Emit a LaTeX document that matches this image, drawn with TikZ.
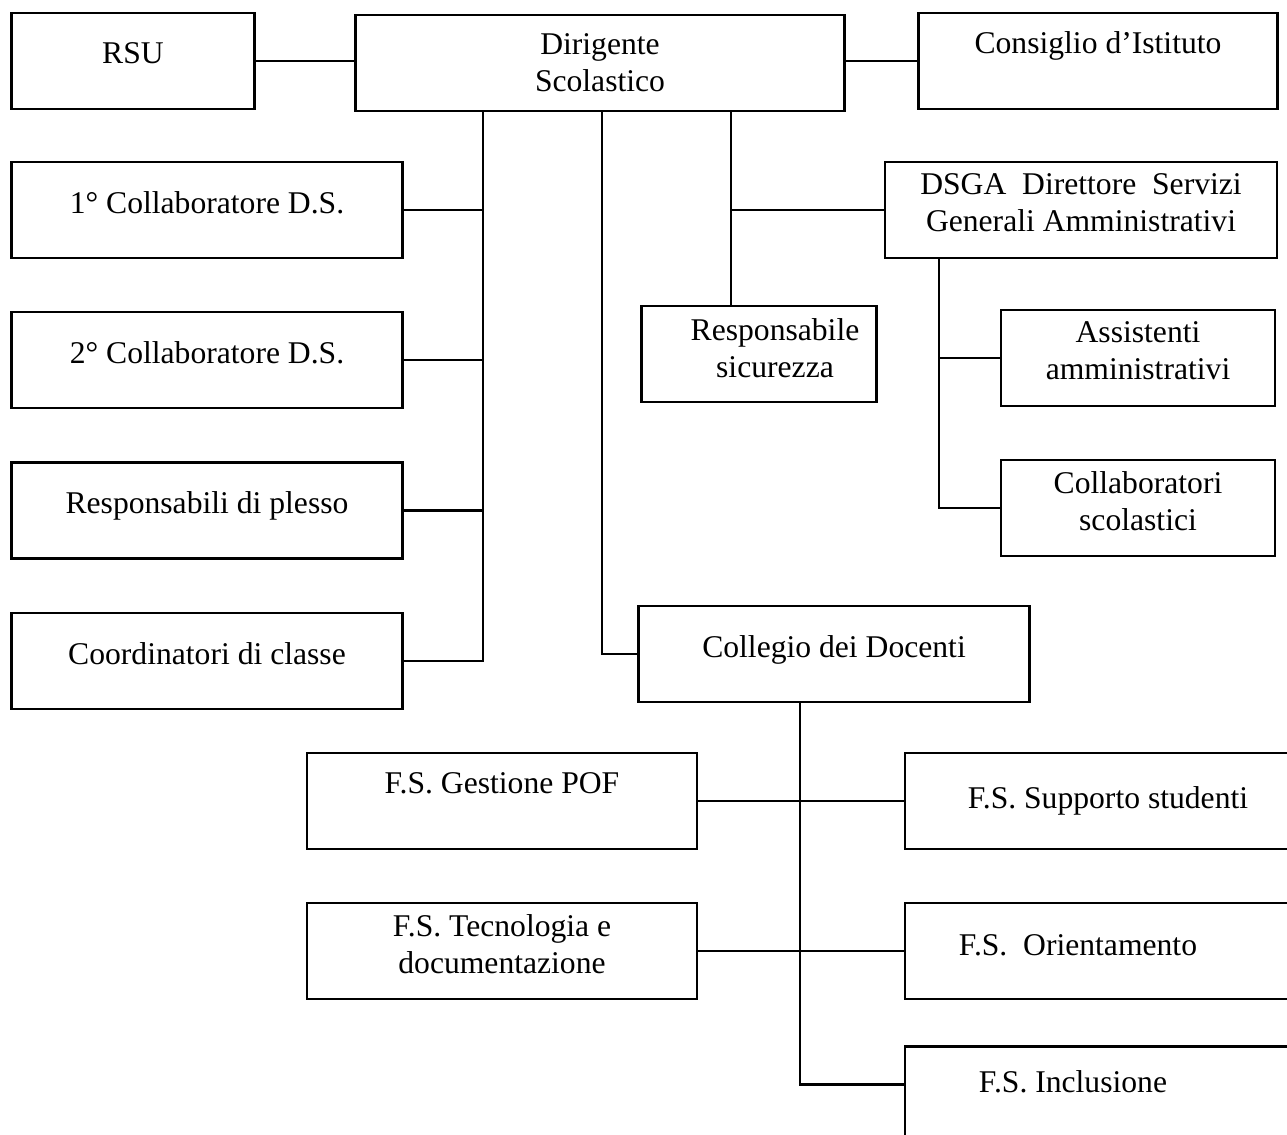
\documentclass[tikz,border=0pt]{standalone}
\usepackage{fontspec}
\setmainfont{Liberation Serif}
\usetikzlibrary{positioning}

\begin{document}
\begin{tikzpicture}[x=0.02cm,y=-0.02cm,line width=1.3pt,node distance=1.04cm,
 box text/.style={font=\fontsize{18}{21}\selectfont,align=center},
 box node/.style={draw,rectangle,box text,text depth=0.3cm,minimum width=#1,minimum height=1.92cm,inner sep=0pt}]

  \clip (0,0) rectangle (1287,1134);

  % top row
  \node[box node=4.86cm] (rsu) at (133,61) {RSU};
  \node[box node=9.78cm,text depth={}] (ds) at (600,63) {Dirigente\\Scolastico};
  \node[box node=7.18cm,text depth={}] (ci) at (1098,61) {Consiglio d’Istituto\\~};

  % left column
  \node[box node=7.82cm] (c1) at (207,210) {1° Collaboratore D.S.};
  \node[box node=7.82cm] (c2) [below=of c1] {2° Collaboratore D.S.};
  \node[box node=7.82cm] (c3) [below=of c2] {Responsabili di plesso};
  \node[box node=7.82cm] (c4) [below=of c3] {Coordinatori di classe};

  % administration
  \node[box node=7.84cm] (dsga) at (1081,210) {DSGA\ \ Direttore\ \ Servizi\\Generali Amministrativi};
  \node[box node=4.7cm, label={[box text,xshift=0.32cm,yshift=0.11cm]center:Responsabile\\sicurezza}] (rs) at (759,354) {};
  \node[box node=5.48cm] (aa) at (1138,358) {Assistenti\\amministrativi};
  \node[box node=5.48cm] (cs) [below=of aa] {Collaboratori\\scolastici};

  % collegio and F.S.
  \node[box node=7.82cm] (cd) at (834,654) {Collegio dei Docenti};
  \node[box node=7.8cm,text depth={}] (pof) at (502,801) {F.S. Gestione POF\\~};
  \node[box node=7.8cm] (tec) [below=of pof] {F.S. Tecnologia e\\documentazione};
  \node[box node=8.12cm,text depth={}] (sup) at (1108,801) {F.S. Supporto studenti};
  \node[box node=8.12cm, label={[box text,xshift=-0.6cm,yshift=0.12cm]center:F.S.\ \ Orientamento}] (ori) [below=of sup] {};
  \node[box node=8.12cm, label={[box text,xshift=-0.7cm,yshift=0.26cm]center:F.S. Inclusione}] (inc) [below=0.9cm of ori] {};

  \coordinate (ta) at (483,0);
  \coordinate (tb) at (602,0);
  \coordinate (tc) at (731,0);
  \coordinate (td) at (939,0);
  \coordinate (te) at (800,0);

  \draw (rsu.east) -- (rsu.east -| ds.west);
  \draw (ci.west) -- (ci.west -| ds.east);
  \draw (ta |- ds.south) |- (c4.east);
  \foreach \n in {c1,c2,c3} {
   \draw (\n.east) -- (ta |- \n.east);}
  \draw (tb |- ds.south) |- (cd.west);
  \draw (tc |- ds.south) -- (tc |- rs.north);
  \draw (tc |- dsga.west) -- (dsga.west);
  \draw (td |- dsga.south) |- (cs.west);
  \draw (td |- aa.west) -- (aa.west);
  \draw (te |- cd.south) |- ([yshift=0.2cm]inc.west);
  \foreach \l/\r in {pof/sup, tec/ori} {
   \draw (\l.east) -- (\r.west);}
\end{tikzpicture}
\end{document}
